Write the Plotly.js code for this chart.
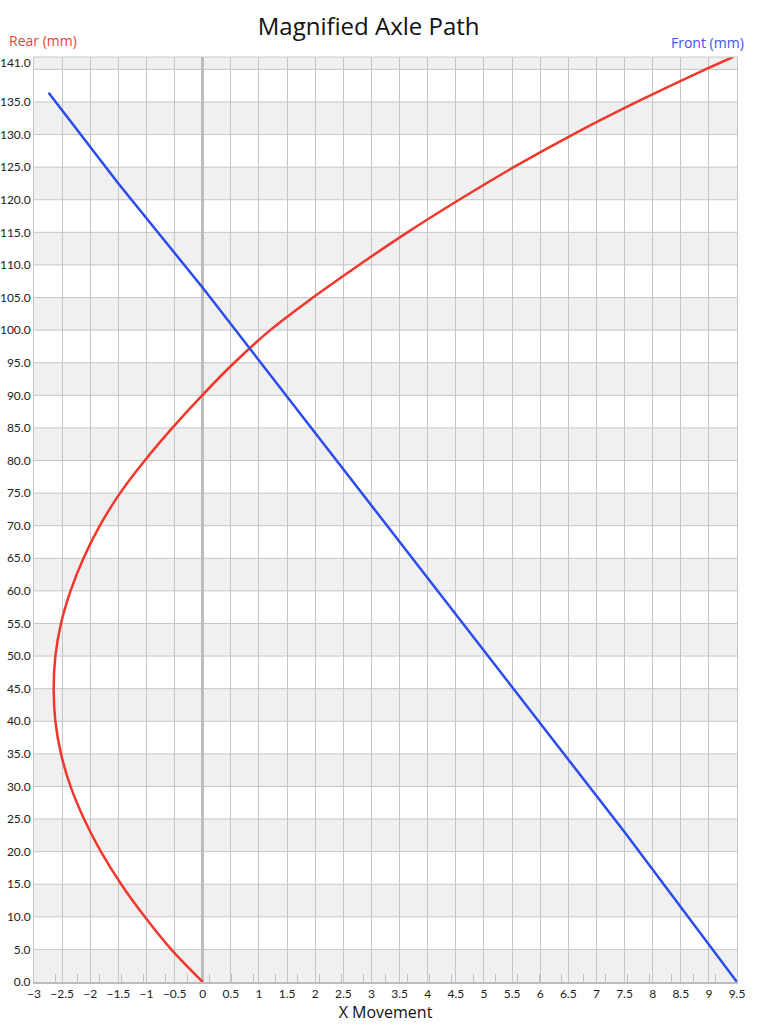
<!DOCTYPE html>
<html>
<head>
<meta charset="utf-8">
<script src="https://cdn.plot.ly/plotly-3.0.1.min.js"></script>
<style>html,body{margin:0;padding:0;background:#fff;}#chart{width:768px;height:1024px;}</style>
</head>
<body>
<div id="chart"></div>
<script>
// Rear axle path (red)
const rearY = [0, 5, 10, 15, 20, 25, 30, 35, 40, 45, 50, 55, 60, 65, 70, 75, 80, 85, 90, 95, 100, 105, 110, 115, 120, 125, 130, 135, 140, 141.9];
const rearX = [0, -0.56, -1.03, -1.45, -1.81, -2.11, -2.35, -2.52, -2.62, -2.65, -2.62, -2.52, -2.35, -2.12, -1.83, -1.47, -1.03, -0.54, -0.01, 0.56, 1.20, 1.96, 2.78, 3.64, 4.56, 5.53, 6.58, 7.72, 8.94, 9.43];
// Front axle path (blue)
const frontY = [136.4, 122.5, 106.5, 89.8, 73.1, 56.4, 39.7, 23.0, 0];
const frontX = [-2.74, -1.5, 0, 1.5, 3, 4.5, 6, 7.5, 9.5];
// Tick labels
const yTickVals = [0,5,10,15,20,25,30,35,40,45,50,55,60,65,70,75,80,85,90,95,100,105,110,115,120,125,130,135,141];
const yTickText = yTickVals.map(v => v.toFixed(1));
const yGridVals = [0,5,10,15,20,25,30,35,40,45,50,55,60,65,70,75,80,85,90,95,100,105,110,115,120,125,130,135,140];

const YMAX = 141.9;
const shapes = [];
for (let i = 0; i < yGridVals.length; i += 2) {
  shapes.push({type:'rect', xref:'paper', yref:'y', x0:0, x1:1, y0:yGridVals[i], y1:Math.min(yGridVals[i]+5, YMAX),
    fillcolor:'#f0f0f0', line:{width:0}, layer:'below'});
}
yGridVals.forEach(v => {
  if (v === 0) return;
  shapes.push({type:'line', xref:'paper', yref:'y', x0:0, x1:1, y0:v, y1:v,
    line:{color:'#c6c6c6', width:1}, layer:'below'});
});
shapes.push({type:'line', xref:'paper', yref:'paper', x0:0, x1:1, y0:1, y1:1, line:{color:'#c6c6c6', width:1}});

const font = '"Open Sans", Lato, sans-serif';

const data = [
  {x: rearX, y: rearY, type:'scatter', mode:'lines', name:'Rear (mm)',
   line:{color:'#f2372c', width:2.5, shape:'spline', smoothing:1}},
  {x: frontX, y: frontY, type:'scatter', mode:'lines', name:'Front (mm)',
   line:{color:'#2b4bef', width:2.5}}
];

const layout = {
  width:768, height:1024,
  margin:{l:34, r:31, t:57, b:42},
  paper_bgcolor:'#fff', plot_bgcolor:'#fff',
  showlegend:false,
  font:{family:font, color:'#222', size:12},
  title:{text:'Magnified Axle Path', x:0.48, xanchor:'center', y:0.974, yanchor:'middle',
    font:{family:font, size:24, color:'#111'}},
  xaxis:{
    range:[-3, 9.5], tickmode:'linear', tick0:-3, dtick:0.5,
    showgrid:true, gridcolor:'#c6c6c6', gridwidth:1,
    zeroline:true, zerolinecolor:'#bdbdbd', zerolinewidth:3,
    showline:true, linecolor:'#bdbdbd', linewidth:2,
    ticks:'', ticklabelstandoff:0,
    tickfont:{family:'Lato, sans-serif', size:12, color:'#222'},
    minor:{ticks:'inside', tick0:-3, dtick:0.390625, ticklen:8, tickcolor:'#bfbfbf', tickwidth:1, showgrid:false},
    title:{text:'X Movement', standoff:4, font:{size:16, color:'#111'}},
    fixedrange:true
  },
  yaxis:{
    range:[0, YMAX], tickvals:yTickVals, ticktext:yTickText,
    showgrid:false, zeroline:false,
    showline:true, mirror:true, linecolor:'#c6c6c6', linewidth:1,
    ticks:'', ticklabelstandoff:0,
    tickfont:{family:'Lato, sans-serif', size:12, color:'#222'},
    fixedrange:true
  },
  shapes: shapes,
  annotations:[
    {text:'Rear (mm)', xref:'paper', yref:'paper', x:-0.038, y:1.0, xanchor:'left', yanchor:'bottom', yshift:5,
     showarrow:false, font:{family:font, size:14, color:'#ee4336'}},
    {text:'Front (mm)', xref:'paper', yref:'paper', x:1.013, y:1.0, xanchor:'right', yanchor:'bottom', yshift:3,
     showarrow:false, font:{family:font, size:14, color:'#3b55ee'}}
  ]
};

Plotly.newPlot('chart', data, layout, {displayModeBar:false, staticPlot:true});
</script>
</body>
</html>
